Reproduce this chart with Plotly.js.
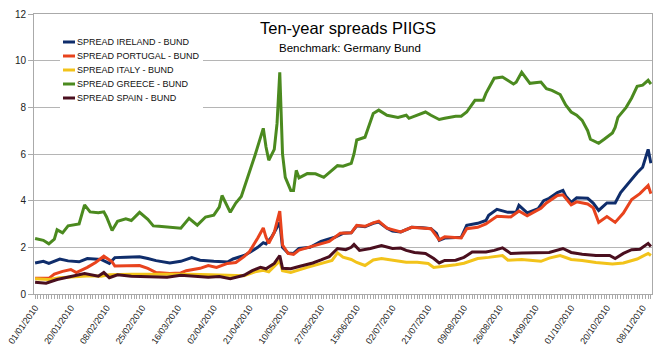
<!DOCTYPE html>
<html>
<head>
<meta charset="utf-8">
<script src="https://cdn.plot.ly/plotly-3.0.1.min.js"></script>
<style>
html,body{margin:0;padding:0;background:#fff;}
#chart{width:659px;height:356px;}
</style>
</head>
<body>
<div id="chart"></div>
<script>
// x = trading-day number counted from 01/01/2010 (weekdays only)
const lastDay = 224;
const tickDays = [0,13,26,39,52,65,78,91,104,117,130,143,156,169,182,195,208,221];
const tickLabels = ["01/01/2010","20/01/2010","08/02/2010","25/02/2010","16/03/2010","02/04/2010","21/04/2010","10/05/2010","27/05/2010","15/06/2010","02/07/2010","21/07/2010","09/08/2010","26/08/2010","14/09/2010","01/10/2010","20/10/2010","08/11/2010"];

const seriesNames = ["SPREAD IRELAND - BUND","SPREAD PORTUGAL - BUND","SPREAD ITALY - BUND","SPREAD GREECE - BUND","SPREAD SPAIN - BUND"];

const irelandDay = [0,3,5,9,12,16,19,24,27,29,33,38,41,44,49,53,57,60,65,70,72,76,78,81,83,84,86,89,90,92,94,96,100,104,106,109,112,115,117,120,123,125,128,130,133,137,141,144,146,147,149,153,155,157,161,164,165,168,172,175,176,179,183,185,187,190,192,193,195,197,201,203,205,208,211,213,217,219,221,222,223,224];
const irelandSpread = [1.33,1.40,1.31,1.50,1.42,1.38,1.52,1.48,1.31,1.56,1.58,1.60,1.52,1.43,1.33,1.40,1.56,1.45,1.40,1.37,1.50,1.65,1.78,2.00,2.20,2.15,2.43,3.07,2.00,1.76,1.74,1.95,2.00,2.25,2.33,2.43,2.60,2.62,2.92,2.88,3.03,3.08,2.82,2.70,2.66,2.86,2.84,2.80,2.60,2.30,2.40,2.40,2.43,2.94,3.03,3.15,3.37,3.63,3.50,3.50,3.80,3.48,3.66,4.00,4.10,4.35,4.44,4.20,3.93,4.12,4.10,3.90,3.58,3.90,3.90,4.35,4.95,5.20,5.43,5.80,6.20,5.60];

const portugalDay = [0,5,7,10,13,15,19,22,25,28,29,35,38,41,44,49,53,55,60,63,66,70,73,76,78,81,83,84,85,87,89,90,92,94,96,101,104,107,111,115,117,120,123,125,128,133,137,144,145,147,149,153,155,157,161,164,168,173,176,179,184,186,190,192,195,197,201,203,205,208,211,214,217,220,223,224];
const portugalSpread = [0.67,0.67,0.85,0.97,1.05,0.92,1.14,1.35,1.62,1.38,1.20,1.20,1.22,1.10,0.92,0.88,0.90,1.00,1.10,1.22,1.14,1.31,1.35,1.60,1.82,2.40,2.83,2.43,2.17,2.64,3.55,2.10,1.74,1.70,1.88,2.05,2.15,2.25,2.60,2.62,2.94,2.90,3.05,3.12,2.82,2.66,2.86,2.80,2.64,2.32,2.45,2.43,2.40,2.80,2.86,3.00,3.33,3.30,3.56,3.35,3.67,3.90,4.22,4.25,3.82,3.95,3.86,3.70,3.07,3.32,3.07,3.47,4.05,4.30,4.65,4.30];

const italyDay = [0,5,9,15,20,24,27,35,42,49,56,64,71,76,80,83,85,89,90,93,99,104,108,110,112,115,117,120,123,126,130,135,139,143,145,149,153,156,161,165,170,172,177,184,187,191,195,199,204,210,214,219,223,224];
const italySpread = [0.65,0.62,0.70,0.75,0.78,0.76,0.82,0.85,0.86,0.84,0.85,0.82,0.78,0.78,0.95,1.02,0.95,1.42,1.00,0.92,1.14,1.31,1.44,1.76,1.58,1.48,1.35,1.22,1.46,1.52,1.44,1.36,1.36,1.31,1.14,1.18,1.25,1.32,1.52,1.57,1.65,1.45,1.48,1.40,1.54,1.65,1.48,1.44,1.35,1.29,1.33,1.50,1.74,1.65];

const greeceDay = [0,3,5,7,8,10,12,15,16,18,20,23,25,26,28,30,33,35,38,41,43,45,48,52,53,56,57,59,62,65,67,68,71,73,75,77,79,80,83,84,85,87,88,89,90,91,93,94,95,96,99,102,105,107,110,112,115,116,117,120,122,123,125,128,132,135,136,139,142,144,147,149,153,155,157,160,163,164,167,170,172,174,175,177,180,184,186,188,191,193,195,197,199,201,202,205,207,210,211,212,215,217,219,221,223,224];
const greeceSpread = [2.38,2.30,2.15,2.35,2.75,2.62,2.92,3.00,3.00,3.82,3.52,3.48,3.52,3.30,2.72,3.12,3.22,3.15,3.50,3.20,2.92,2.90,2.88,2.84,2.82,3.24,3.15,2.95,3.30,3.38,3.72,4.22,3.50,3.90,4.18,4.85,5.60,5.95,7.10,6.30,5.73,6.20,7.30,9.50,6.00,5.00,4.44,4.44,5.30,4.98,5.16,5.15,5.00,5.20,5.50,5.48,5.60,6.00,6.60,6.72,7.35,7.74,7.88,7.66,7.57,7.66,7.53,7.65,7.80,7.66,7.48,7.53,7.62,7.62,7.80,8.30,8.30,8.60,9.25,9.30,9.16,9.00,9.08,9.50,9.03,9.08,8.80,8.73,8.55,8.10,7.80,7.66,7.44,7.00,6.63,6.46,6.63,6.90,7.14,7.57,8.00,8.40,8.90,8.95,9.16,9.00];

const spainDay = [0,4,8,12,15,18,23,25,27,30,35,38,48,53,57,63,67,71,76,79,82,84,87,89,90,93,96,101,104,107,110,113,115,116,118,122,126,130,133,135,138,142,145,147,149,153,156,159,164,167,170,173,177,183,187,192,195,199,204,209,211,214,217,220,223,224];
const spainSpread = [0.50,0.46,0.62,0.72,0.78,0.88,0.76,0.92,0.70,0.82,0.76,0.75,0.72,0.80,0.78,0.72,0.75,0.66,0.80,1.00,1.14,1.08,1.31,1.65,1.10,1.08,1.18,1.33,1.46,1.60,1.95,1.90,2.00,2.12,1.87,1.95,2.08,1.95,1.97,1.87,1.78,1.74,1.52,1.33,1.44,1.45,1.57,1.80,1.80,1.87,1.98,1.74,1.76,1.76,1.78,1.95,1.78,1.70,1.65,1.65,1.52,1.74,1.90,1.92,2.17,2.04];

const colors = ["#0f2d6b","#e8431d","#f2c31a","#4b8a1f","#4a0f1f"];
const days = [irelandDay, portugalDay, italyDay, greeceDay, spainDay];
const spreads = [irelandSpread, portugalSpread, italySpread, greeceSpread, spainSpread];

// one tick per trading day, labelled every 13 days from tickLabels
const allDays = [], allText = [];
for (let d = 0; d <= lastDay; d++) {
  allDays.push(d);
  const k = tickDays.indexOf(d);
  allText.push(k >= 0 ? tickLabels[k] : "");
}

const FONT = "Liberation Sans, Arial, sans-serif";
const traces = seriesNames.map((n, i) => ({
  type: "scatter", mode: "lines", name: n,
  x: days[i], y: spreads[i],
  line: {color: colors[i], width: 3},
  showlegend: false, hoverinfo: "skip"
}));

// plot area geometry (pixels) for the custom legend placement
const W = 659, H = 356, mL = 34, mR = 7, mT = 14, mB = 62;
const pw = W - mL - mR, ph = H - mT - mB;
const px = v => (v - mL) / pw;
const py = v => (H - mB - v) / ph;

const legendRows = [42, 56, 70, 84, 98];
const shapes = [{
  type: "rect", xref: "paper", yref: "paper", layer: "above",
  x0: px(60), x1: px(203), y0: py(112), y1: py(34),
  fillcolor: "#ffffff", line: {width: 0}
}];
const annotations = [
  {text: "Ten-year spreads PIIGS", xref: "paper", yref: "paper", x: px(348), y: py(28),
   xanchor: "center", yanchor: "middle", showarrow: false, font: {family: FONT, size: 16.5, color: "#000"}},
  {text: "Benchmark: Germany Bund", xref: "paper", yref: "paper", x: px(350), y: py(48),
   xanchor: "center", yanchor: "middle", showarrow: false, font: {family: FONT, size: 11.5, color: "#000"}}
];
seriesNames.forEach((n, i) => {
  shapes.push({type: "line", xref: "paper", yref: "paper", layer: "above",
    x0: px(63), x1: px(75), y0: py(legendRows[i]), y1: py(legendRows[i]),
    line: {color: colors[i], width: 3}});
  annotations.push({text: n, xref: "paper", yref: "paper", x: px(75), y: py(legendRows[i]),
    xanchor: "left", yanchor: "middle", showarrow: false,
    font: {family: FONT, size: 9, color: "#111"}});
});

const layout = {
  width: W, height: H,
  margin: {l: mL, r: mR, t: mT, b: mB, pad: 0},
  paper_bgcolor: "#fff", plot_bgcolor: "#fff",
  showlegend: false,
  font: {family: FONT, color: "#333"},
  xaxis: {
    type: "linear", range: [-0.4, lastDay + 0.4],
    tickmode: "array", tickvals: allDays, ticktext: allText,
    tickangle: -55, tickfont: {family: FONT, size: 9, color: "#222"},
    ticks: "outside", ticklen: 4, tickcolor: "#aaa", tickwidth: 1,
    showgrid: false, zeroline: false,
    showline: true, linecolor: "#aaa", linewidth: 1, mirror: true
  },
  yaxis: {
    range: [0, 12], dtick: 2, tick0: 0,
    tickfont: {family: FONT, size: 10, color: "#222"},
    ticks: "outside", ticklen: 5, tickcolor: "#aaa",
    showgrid: true, gridcolor: "#b5b5b5", gridwidth: 1,
    zeroline: false, showline: true, linecolor: "#aaa", linewidth: 1, mirror: true
  },
  shapes: shapes,
  annotations: annotations
};

Plotly.newPlot("chart", traces, layout, {staticPlot: true, displayModeBar: false});
</script>
</body>
</html>
